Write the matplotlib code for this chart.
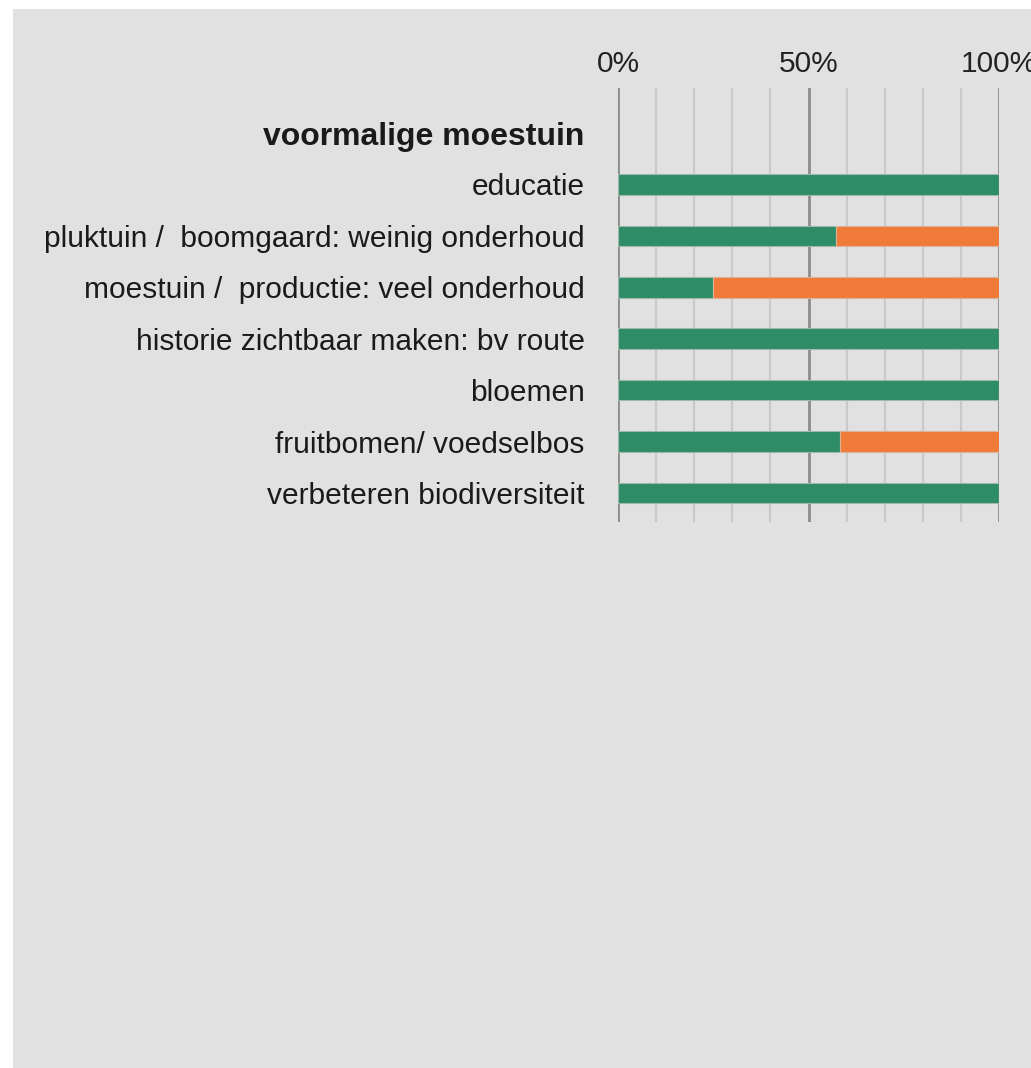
import numpy as np
import matplotlib
matplotlib.use('Agg')
import matplotlib.pyplot as plt
from matplotlib.patches import Rectangle

# data
group_title = "voormalige moestuin"
categories = [
    "educatie",
    "pluktuin /  boomgaard: weinig onderhoud",
    "moestuin /  productie: veel onderhoud",
    "historie zichtbaar maken: bv route",
    "bloemen",
    "fruitbomen/ voedselbos",
    "verbeteren biodiversiteit",
]
green_vals = [100, 57.1, 25.0, 100, 100, 58.3, 100]
orange_vals = [0, 42.9, 75.0, 0, 0, 41.7, 0]
tick_vals = [0, 50, 100]
tick_labels = ["0%", "50%", "100%"]

GREEN = '#2e8c66'
ORANGE = '#f07a38'
BG = '#e1e1e1'

plt.rcParams['font.family'] = ['Liberation Sans', 'DejaVu Sans']

fig = plt.figure(figsize=(10.31, 10.68), dpi=100)
fig.patch.set_facecolor('white')
fig.patches.append(Rectangle((13 / 1031, 0), 1 - 13 / 1031, 1 - 9 / 1068,
                             transform=fig.transFigure, facecolor=BG,
                             edgecolor='none', zorder=-10))

left, right = 618 / 1031, 999 / 1031
bottom, top = 1 - 522 / 1068, 1 - 88 / 1068
ax = fig.add_axes([left, bottom, right - left, top - bottom])
ax.set_facecolor('none')

ypos = np.arange(1, len(categories) + 1)
ax.barh(ypos, green_vals, height=0.4, color=GREEN, edgecolor='#9fb8ab',
        linewidth=0.8, zorder=3)
ax.barh(ypos, orange_vals, left=green_vals, height=0.4, color=ORANGE,
        edgecolor='#d9b39b', linewidth=0.8, zorder=3)

ax.set_xlim(0, 100)
ax.set_ylim(7.565, -0.877)

# gridlines
for v in range(0, 101, 10):
    if v in tick_vals:
        ax.axvline(v, color='#8c8c8c', lw=2.0, zorder=1)
    else:
        ax.axvline(v, color='#c9c9c9', lw=1.5, zorder=1)

for s in ax.spines.values():
    s.set_visible(False)

ax.xaxis.tick_top()
ax.set_xticks(tick_vals)
ax.set_xticklabels(tick_labels, fontsize=21.5, color='#222222')
ax.tick_params(axis='x', length=0, pad=7)

ax.set_yticks(np.arange(0, len(categories) + 1))
ax.set_yticklabels([group_title] + categories, fontsize=21.5, color='#1a1a1a')
ax.tick_params(axis='y', length=0, pad=24)
ax.get_yticklabels()[0].set_fontweight('bold')
ax.get_yticklabels()[0].set_fontsize(23)

fig.savefig('out.png', dpi=100, facecolor=fig.get_facecolor())
